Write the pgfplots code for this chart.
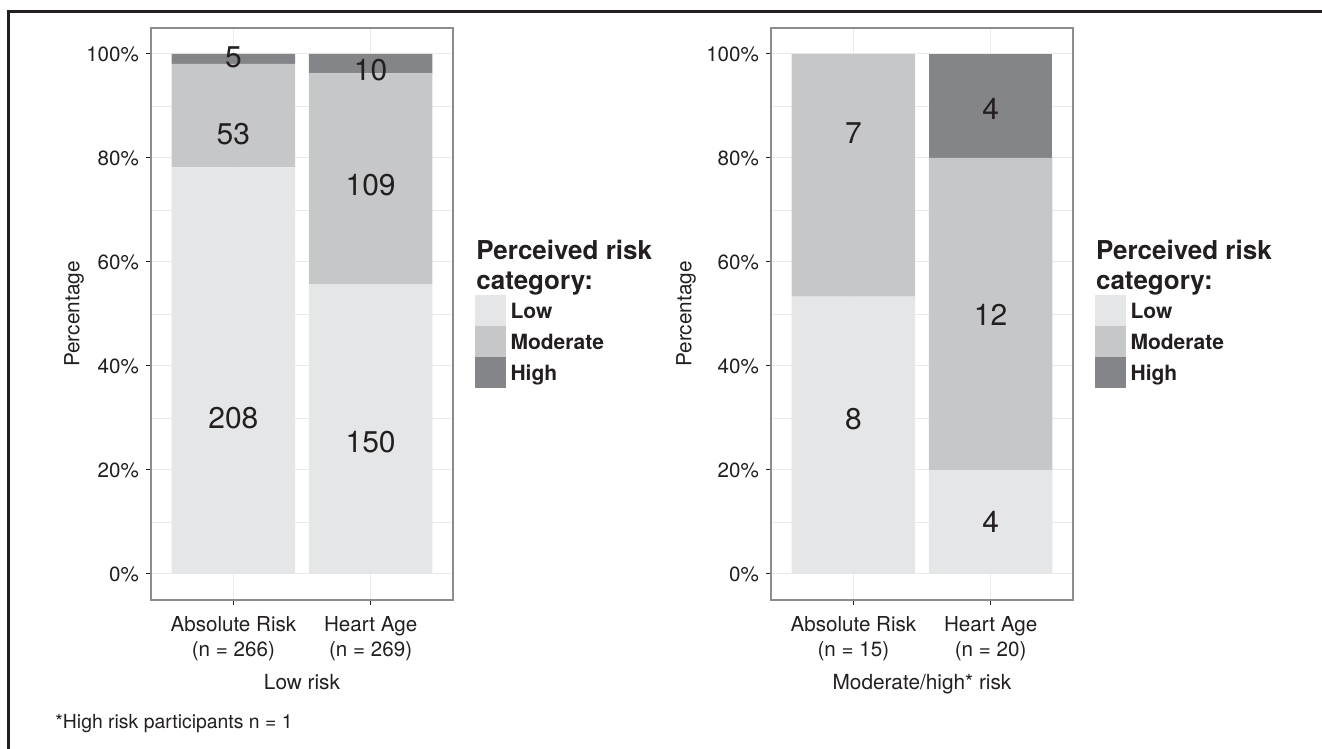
\documentclass[border=0pt]{standalone}
\usepackage{pgfplots}
\pgfplotsset{compat=1.18}
\usepackage{pgfplotstable}
\usepackage{fontspec}
\setmainfont{TeX Gyre Heros}

\definecolor{lowc}{HTML}{E5E6E7}
\definecolor{modc}{HTML}{C6C7C9}
\definecolor{highc}{HTML}{848589}
\definecolor{ink}{HTML}{231F20}
\definecolor{boxc}{HTML}{8C8C8C}
\definecolor{gridc}{HTML}{EBEBEB}

% percentages of each bar (counts / n * 100)
\pgfplotstableread{
x low mod high
1 78.195 19.925 1.880
2 55.762 40.520 3.717
}\lowrisk
\pgfplotstableread{
x low mod high
1 53.333 46.667 0
2 20 60 20
}\modrisk
% count labels, at the heights where the original puts them
\pgfplotstableread{
x y lab
1 99.4 5
1 84.6 53
1 29.9 208
2 97.0 10
2 74.8 109
2 25.3 150
}\lowlabels
\pgfplotstableread{
x y lab
1 84.8 7
1 29.7 8
2 89.4 4
2 49.9 12
2 10.0 4
}\modlabels

\tikzset{legtitle/.style={anchor=base west, inner sep=0pt,
    font=\fontsize{13}{15}\selectfont\bfseries, text=ink}}

\pgfplotsset{
  seg/.style={fill=#1, draw=none,
    legend image code/.code={\fill[#1] (0pt,-7.75pt) rectangle (15.5pt,7.75pt);}},
  panel/.style={
    scale only axis, width=151pt, height=286pt,
    xmin=0.4, xmax=2.6, ymin=-5, ymax=105, clip=false,
    xtick={1,2}, ytick={0,20,...,100}, minor ytick={10,30,...,90},
    yticklabels={0\%,20\%,40\%,60\%,80\%,100\%},
    xtick pos=left, ytick pos=left,
    ymajorgrids, yminorgrids, xmajorgrids,
    major grid style={gridc, line width=0.5pt},
    minor grid style={gridc, line width=0.4pt},
    axis line style={boxc, line width=0.6pt},
    tick align=outside, major tick length=2.5pt, minor tick length=0pt,
    major tick style={ink, line width=0.5pt},
    tick label style={font=\fontsize{10.3}{12.8}\selectfont, text=ink},
    xticklabel style={align=center, yshift=-2pt},
    label style={font=\fontsize{10.4}{12.5}\selectfont, text=ink},
    ybar stacked, bar width=0.9,
    legend cell align=left,
    legend style={draw=none, fill=none, inner sep=0pt, outer sep=0pt,
      row sep=0pt, at={(1.0728,0.5332)}, anchor=north west,
      nodes={inner xsep=2.3pt, inner ysep=0pt, text height=7.5pt, text depth=0pt,
        font=\fontsize{10.5}{12}\selectfont\bfseries, text=ink}},
  },
  labels/.style={
    scale only axis, width=151pt, height=286pt,
    xmin=0.4, xmax=2.6, ymin=-5, ymax=105, hide axis, clip=false},
  numbers/.style={only marks, mark=none, nodes near coords,
    point meta=explicit symbolic,
    nodes near coords style={anchor=center, inner sep=0pt,
      font=\fontsize{15}{15}\selectfont, text=ink}},
}

\begin{document}
\begin{tikzpicture}
\path[use as bounding box] (0,0) rectangle (661pt,374.5pt);
\draw[line width=1.5pt, ink] (4.25pt,0) -- (4.25pt,368.75pt) -- (661pt,368.75pt);

% left panel: low risk
\begin{axis}[panel, at={(75.5pt,74.5pt)}, anchor=south west,
  xticklabels={{Absolute Risk\\(n = 266)},{Heart Age\\(n = 269)}},
  xlabel={Low risk}, ylabel={Percentage},
  ylabel style={at={(axis description cs:-0.255,0.5)}, anchor=center}]
\addplot[seg=lowc] table[x=x, y=low] {\lowrisk};
\addplot[seg=modc] table[x=x, y=mod] {\lowrisk};
\addplot[seg=highc] table[x=x, y=high] {\lowrisk};
\legend{Low,Moderate,High}
\node[legtitle] at (axis description cs:1.076,0.5944) {Perceived risk};
\node[legtitle] at (axis description cs:1.076,0.5420) {category:};
\end{axis}
\begin{axis}[labels, at={(75.5pt,74.5pt)}, anchor=south west]
\addplot[numbers] table[x=x, y=y, meta=lab] {\lowlabels};
\end{axis}

% right panel: moderate/high risk
\begin{axis}[panel, at={(385.5pt,74.5pt)}, anchor=south west,
  xticklabels={{Absolute Risk\\(n = 15)},{Heart Age\\(n = 20)}},
  xlabel={Moderate/high* risk}, ylabel={Percentage},
  ylabel style={at={(axis description cs:-0.281,0.5)}, anchor=center}]
\addplot[seg=lowc] table[x=x, y=low] {\modrisk};
\addplot[seg=modc] table[x=x, y=mod] {\modrisk};
\addplot[seg=highc] table[x=x, y=high] {\modrisk};
\legend{Low,Moderate,High}
\node[legtitle] at (axis description cs:1.075,0.5944) {Perceived risk};
\node[legtitle] at (axis description cs:1.075,0.5420) {category:};
\end{axis}
\begin{axis}[labels, at={(385.5pt,74.5pt)}, anchor=south west]
\addplot[numbers] table[x=x, y=y, meta=lab] {\modlabels};
\end{axis}

\node[anchor=base west, inner sep=0pt, font=\fontsize{9.7}{11}\selectfont, text=ink]
  at (27.5pt,10pt) {*High risk participants n = 1};
\end{tikzpicture}
\end{document}
